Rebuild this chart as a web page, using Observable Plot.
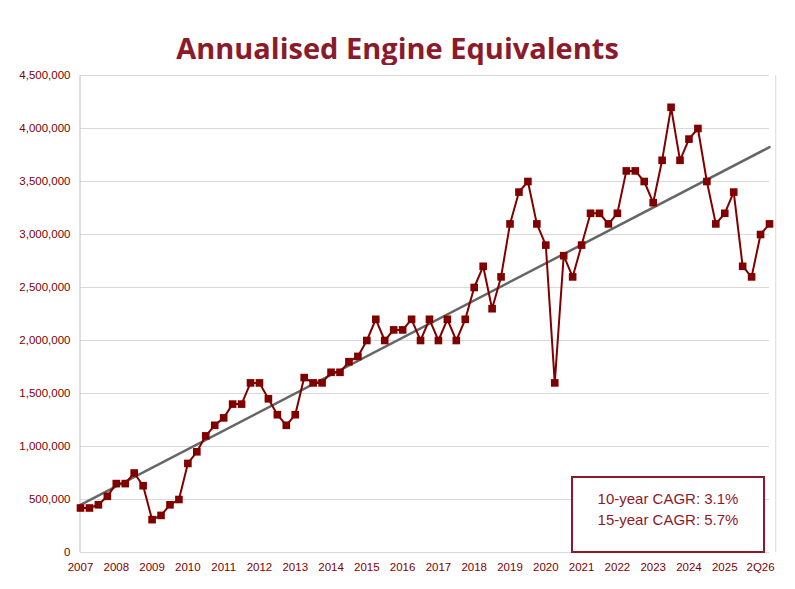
<!DOCTYPE html>
<html><head><meta charset="utf-8">
<script src="https://cdn.jsdelivr.net/npm/d3@7"></script>
<script src="https://cdn.jsdelivr.net/npm/@observablehq/plot@0.6"></script>
<style>
body{margin:0;background:#fff;font-family:Calibri,Carlito,"Liberation Sans",sans-serif;}
#wrap{position:relative;width:795px;height:589px;}
#title{position:absolute;top:28px;left:0;width:795px;text-align:center;font:bold 29px "Open Sans",sans-serif;color:#8B1A2B;}
#chart{position:absolute;top:65px;left:0;}
#box{position:absolute;left:571px;top:476px;width:190px;height:63px;border:2px solid #8B1A2B;color:#8B1A2B;font:15px "Liberation Sans",sans-serif;text-align:center;line-height:21px;padding-top:10px;box-sizing:content-box;background:#fff}
</style></head>
<body><div id="wrap"><div id="title">Annualised Engine Equivalents</div><div id="chart"></div>
<div id="box">10-year CAGR: 3.1%<br>15-year CAGR: 5.7%</div></div>
<script>
const years = ["2007","2008","2009","2010","2011","2012","2013","2014","2015","2016","2017","2018","2019","2020","2021","2022","2023","2024","2025","2Q26"];
const values = [
420000,420000,450000,530000,
650000,650000,750000,630000,
310000,350000,450000,500000,
840000,950000,1100000,1200000,
1270000,1400000,1400000,1600000,
1600000,1450000,1300000,1200000,
1300000,1650000,1600000,1600000,
1700000,1700000,1800000,1850000,
2000000,2200000,2000000,2100000,
2100000,2200000,2000000,2200000,
2000000,2200000,2000000,2200000,
2500000,2700000,2300000,2600000,
3100000,3400000,3500000,3100000,
2900000,1600000,2800000,2600000,
2900000,3200000,3200000,3100000,
3200000,3600000,3600000,3500000,
3300000,3700000,4200000,3700000,
3900000,4000000,3500000,3100000,
3200000,3400000,2700000,2600000,
3000000,3100000];
const data = values.map((v,i)=>({i,v}));
const n = data.length, mx = d3.mean(data,d=>d.i), my = d3.mean(data,d=>d.v);
const slope = d3.sum(data,d=>(d.i-mx)*(d.v-my))/d3.sum(data,d=>(d.i-mx)**2);
const trend = [0,n-1].map(i=>({i,v:my+slope*(i-mx)}));
const red="#800000";
const chart = Plot.plot({
  width:795,height:524,marginLeft:80,marginRight:26,marginTop:10,marginBottom:37,
  style:{fontFamily:'"Liberation Sans",sans-serif',fontSize:"11.5px",color:red,background:"#fff"},
  x:{domain:[0,n-1],ticks:d3.range(0,77,4),tickFormat:d=>years[d/4],tickSize:0,tickPadding:10,label:null},
  y:{domain:[0,4500000],ticks:d3.range(0,4500001,500000),tickFormat:d3.format(","),tickSize:0,tickPadding:10,label:null,grid:true},
  marks:[
    Plot.gridY(d3.range(0,4500001,500000),{stroke:"#d9d9d9",strokeOpacity:1}),
    Plot.ruleX([0],{stroke:"#bfbfbf",dx:-0.5}),
    Plot.ruleX([77.7],{stroke:"#d9d9d9"}),
    Plot.line(trend,{x:"i",y:"v",stroke:"#666",strokeWidth:2.5}),
    Plot.line(data,{x:"i",y:"v",stroke:red,strokeWidth:2}),
    Plot.dot(data,{x:"i",y:"v",symbol:"square",fill:red,r:4.3})
  ]
});
document.getElementById("chart").append(chart);
</script></body></html>
